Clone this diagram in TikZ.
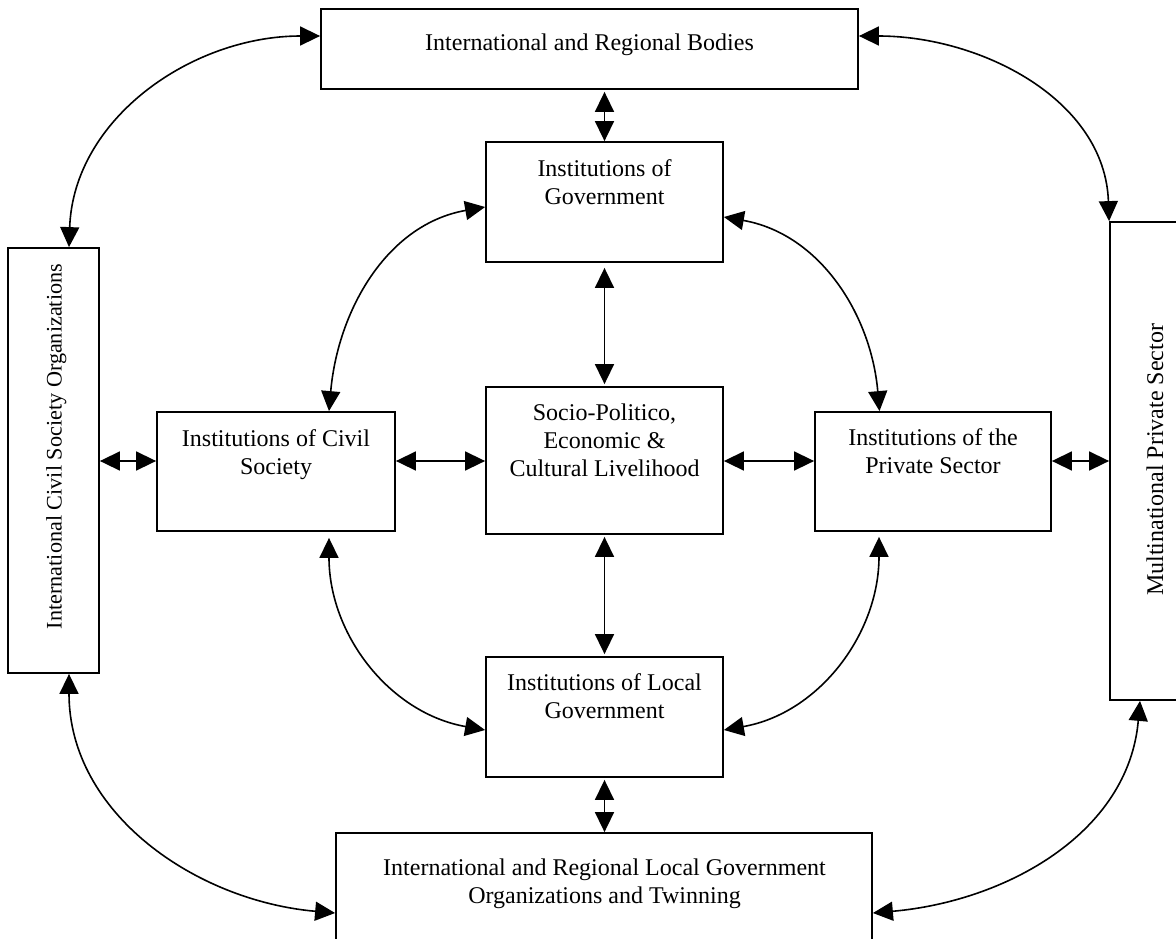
\documentclass[tikz,border=0pt]{standalone}
\usepackage{fontspec}
\setmainfont{Liberation Serif}
\usetikzlibrary{arrows.meta,calc}
\newcommand\mlt[1]{\begin{tabular}[t]{@{}c@{}}#1\end{tabular}}
\begin{document}
\begin{tikzpicture}[x=1pt,y=1pt,
  box/.style={draw, line width=1.8pt, inner sep=0pt, rectangle},
  lbl/.style={font=\fontsize{24}{28}\selectfont, inner sep=0pt, anchor=base},
  link/.style={line width=1.6pt, {Triangle[length=20pt,width=19pt]}-{Triangle[length=20pt,width=19pt]}}]
\useasboundingbox (0,0) rectangle (1176,-938);
\fill[white] (0,0) rectangle (1176,-938);
\clip (0,0) rectangle (1176,-938);

% boxes
\node[box, minimum width=537, minimum height=80]  (top)     at (589.5,-49)   {};
\node[box, minimum width=91,  minimum height=425] (left)    at (53.5,-460.5) {};
\node[box, minimum width=91,  minimum height=478] (right)   at (1155.5,-461) {};
\node[box, minimum width=237, minimum height=120] (gov)     at (604.5,-202)  {};
\node[box, minimum width=238, minimum height=119] (civil)   at (276,-471.5)  {};
\node[box, minimum width=237, minimum height=147] (socio)   at (604.5,-460.5){};
\node[box, minimum width=236, minimum height=119] (private) at (933,-471.5)  {};
\node[box, minimum width=237, minimum height=120] (local)   at (604.5,-717)  {};
\node[box, minimum width=536, minimum height=160] (bottom)  at (604,-913)    {};

% labels
\node[lbl] (topT)     at (589.5,-50)  {International and Regional Bodies};
\node[lbl] (govT)     at (604.5,-176) {\mlt{Institutions of\\Government}};
\node[lbl] (civilT)   at (276,-446)   {\mlt{Institutions of Civil\\Society}};
\node[lbl] (socioT)   at (604.5,-420) {\mlt{Socio-Politico,\\Economic \&\\Cultural Livelihood}};
\node[lbl] (privateT) at (933,-445)   {\mlt{Institutions of the\\Private Sector}};
\node[lbl] (localT)   at (604.5,-690) {\mlt{Institutions of Local\\Government}};
\node[lbl] (bottomT)  at (604.5,-875) {\mlt{International and Regional Local Government\\Organizations and Twinning}};
\node[lbl, rotate=90, font=\fontsize{22.2}{26}\selectfont] (leftT) at (61.5,-446.5) {International Civil Society Organizations};
\node[lbl, rotate=90] (rightT) at (1163,-460)  {Multinational Private Sector};

% helper coordinates
\coordinate (col) at (604.5,0);
\coordinate (row) at (0,-461);

% straight connectors
\draw[link, shorten <=2pt] (col |- top.south) -- (col |- gov.north);
\draw[link, shorten <=5pt, shorten >=2pt] (col |- gov.south) -- (col |- socio.north);
\draw[link, shorten <=2pt, shorten >=2pt] (col |- socio.south) -- (col |- local.north);
\draw[link, shorten <=2pt] (col |- local.south) -- (col |- bottom.north);
\draw[link] (left.east |- row) -- (civil.west |- row);
\draw[link] (civil.east |- row) -- (socio.west |- row);
\draw[link] (socio.east |- row) -- (private.west |- row);
\draw[link] (private.east |- row) -- (right.west |- row);

% curved connectors
\draw[link] ([yshift=13]top.west) to[out=180,in=88] ([xshift=15.5]left.north);
\draw[link] ([yshift=13]top.east) to[out=0,in=92] (right.north west);
\draw[link] ([yshift=-5]gov.west) to[out=190,in=85] ([xshift=53]civil.north);
\draw[link] ([yshift=-15]gov.east) to[out=-10,in=95] ([xshift=-53.5]private.north);
\draw[link] ([xshift=53,yshift=-6]civil.south) to[out=-90,in=170] ([yshift=-13]local.west);
\draw[link] ([xshift=-54,yshift=-5]private.south) to[out=-90,in=10] ([yshift=-13]local.east);
\draw[link] ([xshift=15.5]left.south) to[out=-90,in=175] (bottom.west);
\draw[link] ([xshift=-15.5]right.south) to[out=-95,in=5] (bottom.east);
\end{tikzpicture}
\end{document}
